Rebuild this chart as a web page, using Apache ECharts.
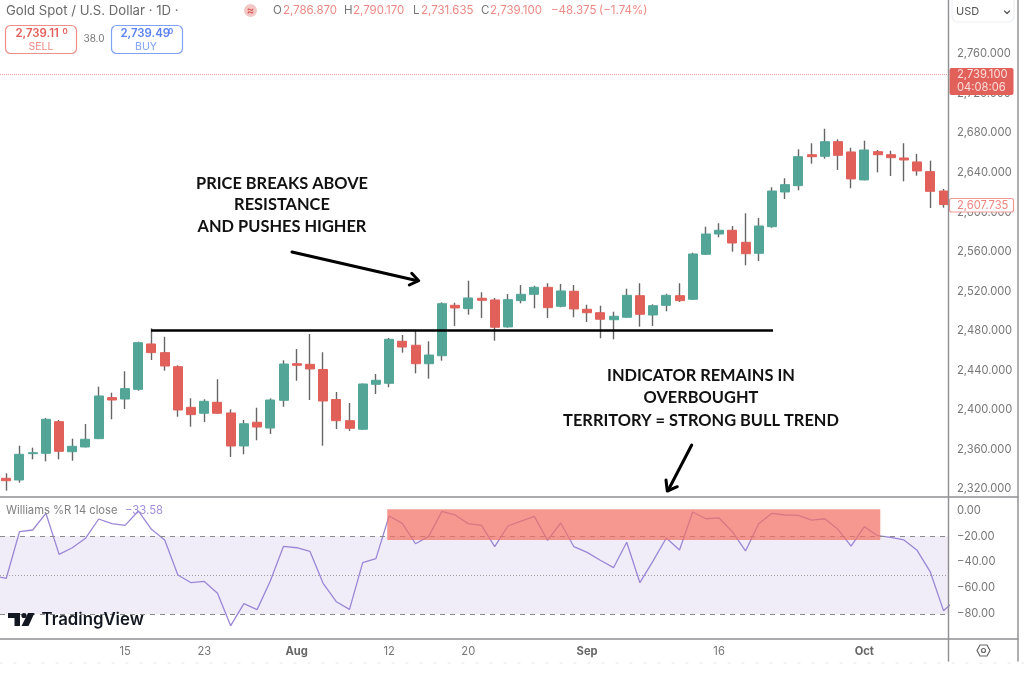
<!DOCTYPE html>
<html lang="en">
<head>
<meta charset="utf-8" />
<style>html,body{margin:0;padding:0;background:#fff}</style>
</head>
<body>
<div id="view1" style="width:1024px;height:673px"></div>
<script src="https://cdn.jsdelivr.net/npm/echarts@6/dist/echarts.min.js"></script>
<script>
// daily candles, index 0 = 2 Jul
var opens = [2330.8,2329.1,2355.7,2356.1,2388.1,2357.7,2362.5,2370.9,2412.4,2411.0,2420.8,2466.7,
    2457.9,2443.7,2402.6,2396.6,2407.7,2396.9,2363.5,2387.5,2381.7,2409.7,2446.7,2446.1,
    2440.9,2410.5,2389.1,2380.4,2425.9,2426.9,2469.4,2465.4,2446.7,2454.8,2505.8,2502.4,
    2512.9,2511.2,2483.9,2510.5,2516.9,2524.0,2504.8,2520.0,2501.8,2498.3,2491.2,2493.7,
    2515.5,2496.0,2505.8,2515.5,2511.9,2557.4,2577.9,2581.7,2569.5,2558.4,2585.3,2620.4,
    2626.8,2658.1,2656.5,2671.3,2660.9,2632.6,2661.2,2658.1,2654.8,2650.8,2641.0,2621.4];
var highs = [2335.9,2363.8,2361.8,2391.8,2389.8,2370.9,2385.7,2423.5,2417.4,2439.1,2469.0,2482.5,
    2474.0,2445.1,2411.7,2410.7,2431.0,2400.6,2389.8,2402.2,2411.7,2450.2,2461.6,2476.8,
    2458.3,2418.1,2407.0,2426.7,2436.3,2472.7,2475.8,2480.5,2469.4,2508.8,2508.4,2530.7,
    2519.0,2513.2,2517.2,2526.3,2525.6,2528.1,2527.4,2526.3,2506.4,2505.4,2499.3,2522.6,
    2528.1,2506.8,2517.5,2528.1,2559.0,2585.3,2588.8,2586.0,2598.9,2594.1,2625.2,2634.3,
    2663.6,2669.7,2684.4,2673.7,2665.2,2672.3,2662.9,2662.2,2669.7,2658.9,2652.1,2623.5];
var lows = [2318.3,2326.4,2350.0,2348.0,2350.0,2348.6,2362.0,2370.5,2390.5,2400.9,2419.4,2450.5,
    2439.7,2393.1,2383.0,2387.8,2395.9,2352.4,2355.1,2369.3,2375.6,2403.2,2429.5,2410.0,
    2363.8,2380.7,2378.7,2379.8,2416.1,2422.9,2457.9,2437.0,2431.6,2449.8,2484.9,2496.3,
    2493.0,2470.0,2483.2,2507.8,2502.8,2493.0,2503.8,2493.7,2488.9,2472.4,2471.4,2493.3,
    2484.2,2484.9,2499.7,2509.2,2511.2,2556.7,2574.6,2560.0,2546.3,2550.6,2584.3,2613.3,
    2622.1,2649.0,2654.1,2642.7,2624.2,2632.2,2640.3,2636.6,2631.2,2636.9,2604.2,2604.5];
var closes = [2328.4,2355.1,2356.7,2390.5,2358.1,2363.2,2370.3,2414.1,2410.0,2421.5,2468.0,2457.9,
    2444.4,2399.9,2395.2,2408.7,2396.6,2363.5,2386.0,2382.7,2410.0,2446.4,2445.1,2441.4,
    2409.0,2389.1,2381.4,2426.2,2430.0,2471.4,2463.6,2446.7,2455.5,2507.4,2503.1,2513.2,
    2510.9,2483.6,2511.5,2516.9,2524.0,2503.4,2520.3,2502.1,2498.3,2491.7,2494.7,2515.9,
    2496.7,2505.4,2515.9,2510.5,2557.7,2577.9,2581.7,2568.8,2558.0,2586.0,2621.4,2627.8,
    2656.1,2656.1,2671.3,2657.5,2633.6,2662.9,2658.1,2655.1,2652.8,2641.7,2621.1,2607.7];
// Williams %R 14, starts one bar before the first candle and ends one after the last (both run off the pane)
var williams = [-50.5,-52.5,-16.5,-15.2,-2.3,-34.0,-28.9,-21.6,-6.7,-10.3,-11.6,-0.5,-14.7,
    -22.9,-50.0,-55.9,-54.9,-64.1,-89.1,-72.1,-76.7,-54.6,-27.8,-28.9,-31.7,
    -56.4,-70.6,-76.5,-40.4,-37.3,-4.4,-10.1,-25.8,-20.1,-0.8,-3.6,-10.3,
    -11.6,-28.1,-12.1,-8.3,-4.7,-23.2,-9.8,-28.1,-32.5,-38.6,-44.3,-24.7,
    -55.9,-39.1,-21.4,-30.7,-1.3,-6.5,-5.9,-16.5,-31.4,-10.3,-2.3,-3.6,
    -3.9,-7.5,-6.5,-14.7,-27.6,-12.6,-19.6,-20.9,-22.9,-30.9,-47.6,-77.5,-68.5];

var tickIndex = [9,15,22,29,35,44,54,65];
var tickLabels = ["15","23","Aug","12","20","Sep","16","Oct"];
var priceTicks = [2320,2360,2400,2440,2480,2520,2560,2600,2640,2680,2720,2760];
var wprTicks = [0,-20,-40,-60,-80];
var lastPrice = 2739.1;
var resistance = 2480.8;

var FONT = "Inter, 'Liberation Sans', sans-serif";
var UP = "#53a697", DOWN = "#e1605a", WICK = "#666666";
var LINE = "#8e8e93", AXIS_TXT = "#777777";
var AXIS_SIZE = 11.2;

function txt(x, y, s, size, color, align, weight, family){
    return {type:"text", x:x, y:y, z:50, silent:true, style:{
        text:s, fontSize:size, fontFamily:family || FONT, fontWeight:weight || "normal",
        fill:color, textAlign:align || "left", textVerticalAlign:"middle"}};
}
function seg(points, color, width, dash){
    return {type:"polyline", z:50, silent:true, shape:{points:points},
        style:{stroke:color, lineWidth:width, lineDash:dash || null, fill:null, lineCap:"round", lineJoin:"round"}};
}
function box(x, y, w, h, r, fill, stroke){
    return {type:"rect", z:49, silent:true, shape:{x:x, y:y, width:w, height:h, r:r},
        style:{fill:fill, stroke:stroke, lineWidth:stroke ? 1.2 : 0}};
}

function money(v){
    return v.toFixed(3).replace(/^(\d)(\d{3})/, "$1,$2");
}

function buildGraphic(){
    var red = "#ee8a85", grey = "#777777", note = 16.4;
    var g = [
        // frame
        seg([[0,497],[1018,497]], LINE, 1.4),
        seg([[0,639],[1018,639]], LINE, 1.4),
        seg([[948.5,0],[948.5,661]], LINE, 1.4),
        seg([[1018,0],[1018,661]], LINE, 1.4),
        seg([[0,663],[1024,663]], "#e4e4e4", 1, [2,12]),

        // header
        txt(6, 11, "Gold Spot / U.S. Dollar · 1D ·", 13.2, "#6a6a6a"),
        {type:"circle", z:49, silent:true, shape:{cx:250.5, cy:10.5, r:6.5}, style:{fill:"#f2c8c6"}},
        txt(250.5, 10.5, "≈", 11, "#d85f5c", "center", "bold"),
        txt(273, 11, "O", 11.5, grey), txt(283, 11, "2,786.870", 11.5, red),
        txt(344, 11, "H", 11.5, grey), txt(353, 11, "2,790.170", 11.5, red),
        txt(413, 11, "L", 11.5, grey), txt(421, 11, "2,731.635", 11.5, red),
        txt(481, 11, "C", 11.5, grey), txt(490, 11, "2,739.100", 11.5, red),
        txt(551, 11, "−48.375", 11.5, red), txt(599, 11, "(−1.74%)", 11.5, red),

        // sell / buy
        box(5.5, 25.5, 71, 28, 5, "#ffffff", "#ee8f8a"),
        box(111.5, 25.5, 71, 28, 5, "#ffffff", "#7fa2f5"),
        txt(15.5, 34, "2,739.11", 11.4, "#e2605a", "left", "600"),
        txt(62.5, 32, "0", 8, "#e2605a", "left", "600"),
        txt(41, 46.5, "SELL", 10.5, "#ee8a85", "center"),
        txt(120.5, 34, "2,739.49", 11.4, "#5b82ef", "left", "600"),
        txt(168, 32, "0", 8, "#5b82ef", "left", "600"),
        txt(146, 46.5, "BUY", 10.5, "#7fa2f5", "center"),
        txt(94, 39, "38.0", 10, "#777777", "center"),

        // currency selector
        box(952, -6, 62, 28, 6, "#ffffff", "#eef0f5"),
        txt(956, 12, "USD", 11, "#555555"),
        seg([[1004.5,11],[1007,13.5],[1009.5,11]], "#555555", 1.2),

        // last price tag
        box(949.5, 68, 64, 27, 2, DOWN, null),
        txt(957, 75, money(lastPrice), AXIS_SIZE, "#fbdcd9"),
        txt(957, 88, "04:08:06", AXIS_SIZE, "#fbdcd9"),
        // pre-close tag
        box(949.5, 198.5, 64, 13.5, 2, "#ffffff", "#f09a95"),
        txt(957, 205.5, money(2607.735), AXIS_SIZE, "#ee8680"),

        // indicator legend
        txt(6, 511, "Williams %R 14 close", 11.2, "#808080"),
        txt(125, 511, "−33.58", 11.3, "#a08fd8"),

        // annotations
        txt(282, 184, "PRICE BREAKS ABOVE", note, "#111111", "center", "bold", "Lato"),
        txt(282, 205, "RESISTANCE", note, "#111111", "center", "bold", "Lato"),
        txt(282, 227, "AND PUSHES HIGHER", note, "#111111", "center", "bold", "Lato"),
        txt(701, 376, "INDICATOR REMAINS IN", note, "#111111", "center", "bold", "Lato"),
        txt(701, 398, "OVERBOUGHT", note, "#111111", "center", "bold", "Lato"),
        txt(701, 421, "TERRITORY = STRONG BULL TREND", note, "#111111", "center", "bold", "Lato"),

        // arrows
        seg([[292,252],[417.5,280.7]], "#000000", 3),
        seg([[411.7,273.3],[418.7,280.7],[409.3,285]], "#000000", 3),
        seg([[691.7,445],[668.3,490]], "#000000", 3),
        seg([[666,480],[667.3,491],[677.3,486.7]], "#000000", 3),

        // TradingView mark
        {type:"polygon", z:50, silent:true, shape:{points:[[8,613],[20,613],[20,626],[14.5,626],[14.5,618],[8,618]]}, style:{fill:"#131722"}},
        {type:"circle", z:50, silent:true, shape:{cx:24, cy:615.5, r:2.6}, style:{fill:"#131722"}},
        {type:"polygon", z:50, silent:true, shape:{points:[[28,613],[34.5,613],[28.5,626],[21.5,626]]}, style:{fill:"#131722"}},
        txt(41.5, 620, "TradingView", 16.8, "#131722", "left", "600"),

        // settings icon
        {type:"polygon", z:50, silent:true, shape:{points:[[977,650.5],[980,645],[987,645],[990,650.5],[987,656],[980,656]]},
            style:{fill:null, stroke:"#666666", lineWidth:1.2}},
        {type:"circle", z:50, silent:true, shape:{cx:983.5, cy:650.5, r:2}, style:{fill:null, stroke:"#666666", lineWidth:1.2}}
    ];
    return g;
}

window.onload = function(){
    var wicks = [], bodies = [], wpr = [];
    for(var i = 0; i < opens.length; i++){
        wicks.push([i, opens[i], closes[i], lows[i], highs[i]]);
        bodies.push([i, opens[i], closes[i], Math.min(opens[i], closes[i]), Math.max(opens[i], closes[i])]);
    }
    for(var j = 0; j < williams.length; j++) wpr.push([j - 1, williams[j]]);

    var xRange = {min:-0.477, max:71.34};
    var xShared = {type:"value", min:xRange.min, max:xRange.max, splitLine:{show:false},
        axisLine:{show:false}, axisTick:{show:false}};

    var option = {
        animation:false,
        backgroundColor:"#ffffff",
        grid:[
            {left:0, top:0, width:948, height:497},
            {left:0, top:497, width:948, height:142}
        ],
        xAxis:[
            Object.assign({gridIndex:0, axisLabel:{show:false}}, xShared),
            Object.assign({gridIndex:1, axisLabel:{
                customValues:tickIndex, margin:7, fontFamily:FONT, fontSize:AXIS_SIZE, color:AXIS_TXT,
                hideOverlap:false,
                formatter:function(v){
                    var s = tickLabels[tickIndex.indexOf(v)];
                    return isNaN(+s) ? "{b|" + s + "}" : s;
                },
                rich:{b:{fontFamily:FONT, fontSize:AXIS_SIZE, fontWeight:"bold", color:"#666666"}}
            }}, xShared)
        ],
        yAxis:[
            {gridIndex:0, type:"value", position:"right", min:2311.9, max:2814.6, scale:true,
                splitLine:{show:false}, axisLine:{show:false}, axisTick:{show:false},
                axisLabel:{customValues:priceTicks, margin:9, fontFamily:FONT, fontSize:AXIS_SIZE, color:AXIS_TXT,
                    formatter:function(v){ return money(v); }}},
            {gridIndex:1, type:"value", position:"right", min:-99.4, max:10.3,
                splitLine:{show:false}, axisLine:{show:false}, axisTick:{show:false},
                axisLabel:{customValues:wprTicks, margin:9, fontFamily:FONT, fontSize:AXIS_SIZE, color:AXIS_TXT,
                    formatter:function(v){ return (v < 0 ? "−" : "") + Math.abs(v).toFixed(2); }}}
        ],
        series:[
            {name:"wicks", type:"candlestick", xAxisIndex:0, yAxisIndex:0, barWidth:1,
                encode:{x:0, y:[1,2,3,4]}, data:wicks,
                itemStyle:{color:WICK, color0:WICK, borderColor:WICK, borderColor0:WICK, borderWidth:1.4}},
            {name:"bodies", type:"candlestick", xAxisIndex:0, yAxisIndex:0, barWidth:9.5,
                encode:{x:0, y:[1,2,3,4]}, data:bodies,
                itemStyle:{color:UP, color0:DOWN, borderColor:UP, borderColor0:DOWN, borderWidth:1},
                markLine:{silent:true, symbol:"none", label:{show:false}, animation:false, data:[
                    [{coord:[10.96, resistance], lineStyle:{color:"#000000", width:2.5, type:"solid"}},
                     {coord:[58.08, resistance]}],
                    {yAxis:lastPrice, lineStyle:{color:"#eda5a1", width:1, type:"dotted"}}
                ]}},
            {name:"Williams %R", type:"line", xAxisIndex:1, yAxisIndex:1, showSymbol:false, symbol:"none",
                data:wpr, lineStyle:{color:"#9b86d6", width:1.3},
                markArea:{silent:true, z:1, itemStyle:{color:"#f0edf8"}, data:[[{yAxis:-20},{yAxis:-80}]]},
                markLine:{silent:true, symbol:"none", label:{show:false}, animation:false, z:5, data:[
                    {yAxis:-20, lineStyle:{color:"#8a8a8a", width:1, type:[5,5]}},
                    {yAxis:-50, lineStyle:{color:"#a0a0a0", width:1, type:[1,2]}},
                    {yAxis:-80, lineStyle:{color:"#8a8a8a", width:1, type:[5,5]}}
                ]}},
            {name:"overbought highlight", type:"line", xAxisIndex:1, yAxisIndex:1, symbol:"none", data:[],
                markArea:{silent:true, z:6, itemStyle:{color:"rgba(242,112,100,0.72)"},
                    data:[[{coord:[28.86, 0.8]},{coord:[66.21, -22.9]}]]}}
        ],
        graphic:{elements:buildGraphic()}
    };

    var myChart = echarts.init(document.getElementById("view1"));
    myChart.setOption(option);
};
</script>
</body>
</html>
